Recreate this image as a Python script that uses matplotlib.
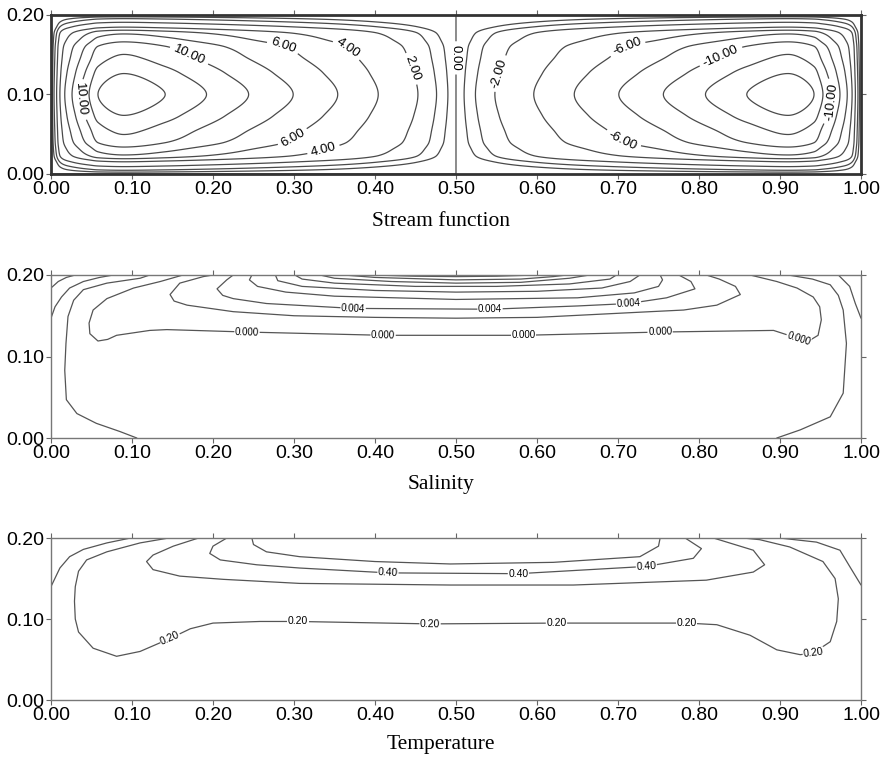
import numpy as np
import matplotlib
matplotlib.use("Agg")
import matplotlib.pyplot as plt

# ---------------- stream function ----------------
# value of psi along mid-depth (y = 0.10), read at the contour crossings
PSI_X = [0.000, 0.007, 0.011, 0.017, 0.026, 0.036, 0.047, 0.058, 0.090,
         0.141, 0.192, 0.244, 0.299, 0.354, 0.404, 0.453, 0.476, 0.490,
         0.500, 0.510, 0.524, 0.548, 0.596, 0.646, 0.701, 0.756, 0.808,
         0.859, 0.910, 0.942, 0.953, 0.964, 0.974, 0.983, 0.989, 0.993, 1.000]
PSI_MID = [0, 2, 4, 6, 8, 10, 12, 14, 15.5,
           14, 12, 10, 8, 6, 4, 2, 1, 0.5,
           0, -0.5, -1, -2, -4, -6, -8, -10, -12,
           -14, -15.5, -14, -12, -10, -8, -6, -4, -2, 0]
# vertical shape of both cells, as a fraction of the mid-depth value
PSI_Y = [0.000, 0.0045, 0.009, 0.015, 0.023, 0.032, 0.040, 0.055, 0.073, 0.100,
         0.127, 0.145, 0.160, 0.168, 0.177, 0.185, 0.191, 0.1955, 0.200]
PSI_SHAPE = [0.0, 0.0625, 0.125, 0.25, 0.50, 0.62, 0.72, 0.80, 0.90, 1.00,
             0.90, 0.80, 0.72, 0.62, 0.50, 0.25, 0.125, 0.0625, 0.0]
PSI_LEVELS = [-14, -12, -10, -8, -6, -4, -2, -1, -0.5, 0,
              0.5, 1, 2, 4, 6, 8, 10, 12, 14]
PSI_LABELS = [-10, -6, -2, 0, 2, 4, 6, 10]
PSI_LABEL_POS = [(0.034, 0.093), (0.172, 0.152), (0.287, 0.162), (0.291, 0.058),
                 (0.365, 0.156), (0.332, 0.047), (0.447, 0.133), (0.497, 0.146),
                 (0.552, 0.127), (0.711, 0.160), (0.712, 0.055), (0.826, 0.150),
                 (0.964, 0.091)]

# ---------------- salinity isolines (x, y) ----------------
SAL_M006_L = [(0.000, 0.184), (0.009, 0.192), (0.019, 0.197), (0.030, 0.200)]
SAL_M004_L = [(0.000, 0.147), (0.005, 0.161), (0.013, 0.173), (0.023, 0.184),
              (0.040, 0.192), (0.060, 0.197), (0.077, 0.200)]
SAL_M004_R = [(0.972, 0.200), (0.986, 0.186), (0.993, 0.165), (1.000, 0.147)]
SAL_M002_L = [(0.122, 0.200), (0.110, 0.196), (0.069, 0.190), (0.040, 0.182),
              (0.028, 0.169), (0.021, 0.149), (0.0185, 0.116), (0.017, 0.083),
              (0.019, 0.047), (0.032, 0.030), (0.056, 0.018), (0.085, 0.008),
              (0.106, 0.000)]
SAL_M002_R = [(0.910, 0.200), (0.940, 0.195), (0.962, 0.188), (0.972, 0.175),
              (0.978, 0.157), (0.982, 0.116), (0.978, 0.055), (0.962, 0.026),
              (0.925, 0.010), (0.896, 0.000)]
SAL_000 = [(0.163, 0.200), (0.135, 0.192), (0.102, 0.184), (0.069, 0.171),
           (0.052, 0.157), (0.047, 0.141), (0.048, 0.128), (0.058, 0.119),
           (0.070, 0.121), (0.081, 0.126), (0.122, 0.132), (0.143, 0.133),
           (0.242, 0.130), (0.410, 0.126), (0.583, 0.126), (0.752, 0.130),
           (0.892, 0.132), (0.923, 0.122), (0.937, 0.120), (0.947, 0.126),
           (0.951, 0.145), (0.949, 0.161), (0.941, 0.173), (0.921, 0.184),
           (0.896, 0.192), (0.863, 0.200)]
SAL_002 = [(0.200, 0.200), (0.188, 0.198), (0.159, 0.190), (0.147, 0.176),
           (0.152, 0.168), (0.168, 0.163), (0.225, 0.155), (0.300, 0.150),
           (0.400, 0.148), (0.500, 0.147), (0.600, 0.148), (0.740, 0.155),
           (0.781, 0.157), (0.822, 0.163), (0.851, 0.176), (0.845, 0.186),
           (0.825, 0.195), (0.809, 0.200)]
SAL_004 = [(0.225, 0.200), (0.217, 0.194), (0.205, 0.183), (0.212, 0.175),
           (0.225, 0.171), (0.266, 0.165), (0.373, 0.159), (0.542, 0.158),
           (0.650, 0.162), (0.713, 0.165), (0.760, 0.172), (0.795, 0.183),
           (0.790, 0.192), (0.775, 0.200)]
SAL_006 = [(0.248, 0.200), (0.245, 0.194), (0.255, 0.186), (0.290, 0.179),
           (0.350, 0.174), (0.500, 0.170), (0.650, 0.172), (0.720, 0.178),
           (0.750, 0.186), (0.755, 0.194), (0.752, 0.200)]
SAL_008 = [(0.277, 0.200), (0.280, 0.193), (0.310, 0.186), (0.400, 0.181),
           (0.500, 0.179), (0.600, 0.180), (0.680, 0.184), (0.715, 0.192),
           (0.727, 0.200)]
SAL_010 = [(0.301, 0.200), (0.310, 0.195), (0.350, 0.190), (0.450, 0.186),
           (0.550, 0.186), (0.640, 0.189), (0.690, 0.195), (0.698, 0.200)]
SAL_012 = [(0.332, 0.200), (0.350, 0.196), (0.420, 0.192), (0.500, 0.190),
           (0.580, 0.191), (0.640, 0.196), (0.665, 0.200)]
SAL_014 = [(0.361, 0.200), (0.400, 0.197), (0.500, 0.194), (0.580, 0.195),
           (0.620, 0.198), (0.637, 0.200)]
SAL_016 = [(0.398, 0.200), (0.450, 0.1985), (0.500, 0.198), (0.550, 0.1985),
           (0.600, 0.200)]
SAL_LABEL_POS = [(0.000, (0.242, 0.130)), (0.000, (0.410, 0.126)),
                 (0.000, (0.583, 0.126)), (0.000, (0.752, 0.130)),
                 (0.000, (0.923, 0.122)), (0.004, (0.373, 0.159)),
                 (0.004, (0.542, 0.158)), (0.004, (0.713, 0.165))]

# ---------------- temperature isolines (x, y) ----------------
TEM_010_L = [(0.000, 0.140), (0.011, 0.163), (0.023, 0.177), (0.040, 0.186),
             (0.069, 0.194), (0.098, 0.200)]
TEM_010_R = [(0.900, 0.200), (0.945, 0.195), (0.974, 0.185), (0.986, 0.165),
             (1.000, 0.142)]
TEM_020 = [(0.145, 0.200), (0.110, 0.194), (0.069, 0.183), (0.044, 0.173),
           (0.034, 0.159), (0.030, 0.140), (0.029, 0.122), (0.030, 0.100),
           (0.034, 0.084), (0.052, 0.064), (0.081, 0.054), (0.110, 0.060),
           (0.147, 0.076), (0.172, 0.088), (0.200, 0.095), (0.258, 0.097),
           (0.305, 0.097), (0.468, 0.094), (0.624, 0.095), (0.785, 0.095),
           (0.822, 0.093), (0.863, 0.080), (0.896, 0.062), (0.925, 0.056),
           (0.941, 0.058), (0.962, 0.072), (0.970, 0.097), (0.972, 0.125),
           (0.968, 0.150), (0.953, 0.171), (0.912, 0.189), (0.875, 0.198),
           (0.855, 0.200)]
TEM_030 = [(0.182, 0.200), (0.151, 0.190), (0.126, 0.179), (0.118, 0.171),
           (0.126, 0.161), (0.159, 0.153), (0.213, 0.149), (0.307, 0.144),
           (0.493, 0.142), (0.645, 0.142), (0.809, 0.148), (0.867, 0.158),
           (0.881, 0.167), (0.867, 0.185), (0.818, 0.200)]
TEM_040 = [(0.217, 0.200), (0.200, 0.190), (0.196, 0.181), (0.209, 0.173),
           (0.254, 0.167), (0.307, 0.163), (0.416, 0.157), (0.577, 0.156),
           (0.735, 0.165), (0.793, 0.175), (0.803, 0.187), (0.783, 0.200)]
TEM_050 = [(0.248, 0.200), (0.250, 0.192), (0.266, 0.183), (0.307, 0.177),
           (0.400, 0.171), (0.493, 0.168), (0.620, 0.170), (0.727, 0.177),
           (0.750, 0.190), (0.752, 0.200)]
TEM_LABEL_POS = [(0.40, (0.416, 0.157)), (0.40, (0.577, 0.156)),
                 (0.40, (0.735, 0.165)), (0.20, (0.147, 0.076)),
                 (0.20, (0.305, 0.097)), (0.20, (0.468, 0.094)),
                 (0.20, (0.624, 0.095)), (0.20, (0.785, 0.095)),
                 (0.20, (0.941, 0.058))]

X_TICKS = [0.0, 0.1, 0.2, 0.3, 0.4, 0.5, 0.6, 0.7, 0.8, 0.9, 1.0]
Y_TICKS = [0.0, 0.1, 0.2]
TITLES = ["Stream function", "Salinity", "Temperature"]


def pchip(xk, yk, x):
    """Monotone cubic Hermite through (xk, yk)."""
    xk = np.asarray(xk, float)
    yk = np.asarray(yk, float)
    h = np.diff(xk)
    d = np.diff(yk) / h
    m = np.zeros_like(yk)
    m[0], m[-1] = d[0], d[-1]
    for k in range(1, len(xk) - 1):
        if d[k - 1] * d[k] > 0:
            w1 = 2 * h[k] + h[k - 1]
            w2 = h[k] + 2 * h[k - 1]
            m[k] = (w1 + w2) / (w1 / d[k - 1] + w2 / d[k])
    i = np.clip(np.searchsorted(xk, x) - 1, 0, len(h) - 1)
    t = (x - xk[i]) / h[i]
    h00 = 2 * t**3 - 3 * t**2 + 1
    h10 = t**3 - 2 * t**2 + t
    h01 = -2 * t**3 + 3 * t**2
    h11 = t**3 - t**2
    return h00 * yk[i] + h10 * h[i] * m[i] + h01 * yk[i + 1] + h11 * h[i] * m[i + 1]


def style_axes(ax, spine_lw, spine_col):
    ax.set_xlim(0, 1)
    ax.set_ylim(0, 0.2)
    ax.set_xticks(X_TICKS)
    ax.set_yticks(Y_TICKS)
    ax.set_xticklabels(["%.2f" % v for v in X_TICKS])
    ax.set_yticklabels(["%.2f" % v for v in Y_TICKS])
    ax.tick_params(direction="out", length=3.5, width=0.8, color="#666666",
                   top=True, right=True, labelsize=14, pad=1.5)
    for lab in ax.get_xticklabels() + ax.get_yticklabels():
        lab.set_family("Liberation Sans")
    for sp in ax.spines.values():
        sp.set_linewidth(spine_lw)
        sp.set_color(spine_col)


def nearest_on_line(P, q):
    best = (np.inf, 0, P[0])
    for k in range(len(P) - 1):
        a, b = P[k], P[k + 1]
        ab = b - a
        t = np.clip(np.dot(q - a, ab) / max(np.dot(ab, ab), 1e-12), 0, 1)
        p = a + t * ab
        dist = np.hypot(*(q - p))
        if dist < best[0]:
            best = (dist, k, p)
    return best


def draw_isolines(ax, lines, labels, fmt, size, color):
    for level, pts in lines:
        xs, ys = zip(*pts)
        ax.plot(xs, ys, color=color, lw=0.9, solid_joinstyle="round",
                solid_capstyle="round", zorder=2)
    for level, pos in labels:
        q = ax.transData.transform(pos)
        cands = []
        for lv, pts in lines:
            if abs(lv - level) < 1e-9:
                P = ax.transData.transform(np.asarray(pts, float))
                cands.append(nearest_on_line(P, q) + (P,))
        dist, k, p, P = min(cands, key=lambda c: c[0])
        dx, dy = P[k + 1] - P[k]
        ang = np.degrees(np.arctan2(dy, dx))
        if ang > 90:
            ang -= 180
        if ang < -90:
            ang += 180
        xd, yd = ax.transData.inverted().transform(p)
        ax.text(xd, yd, fmt % level, rotation=ang, rotation_mode="anchor",
                ha="center", va="center", fontsize=size,
                family="Liberation Sans", zorder=3,
                bbox=dict(fc="white", ec="none", pad=0.4))


fig = plt.figure(figsize=(8.82, 7.59), dpi=100)
ax1 = fig.add_axes([0.0578, 0.7708, 0.9184, 0.2095])
ax2 = fig.add_axes([0.0578, 0.4229, 0.9184, 0.2148])
ax3 = fig.add_axes([0.0578, 0.0777, 0.9184, 0.2134])

# stream function field from the two profiles
gx = np.linspace(0, 1, 1201)
gy = np.linspace(0, 0.2, 481)
psi = np.outer(pchip(PSI_Y, PSI_SHAPE, gy), pchip(PSI_X, PSI_MID, gx))
plain = [v for v in PSI_LEVELS if v not in PSI_LABELS]
ax1.contour(gx, gy, psi, levels=plain, colors="#4a4a4a",
            linewidths=0.9, linestyles="solid")
cs = ax1.contour(gx, gy, psi, levels=PSI_LABELS, colors="#4a4a4a",
                 linewidths=0.9, linestyles="solid")
ax1.clabel(cs, manual=PSI_LABEL_POS, fmt="%.2f",
           fontsize=9.5, inline=True, inline_spacing=2)
for t in cs.labelTexts:
    t.set_family("Liberation Sans")
    t.set_color("black")
style_axes(ax1, 2.0, "#333333")

sal_lines = [(-0.006, SAL_M006_L), (-0.004, SAL_M004_L), (-0.004, SAL_M004_R),
             (-0.002, SAL_M002_L), (-0.002, SAL_M002_R), (0.000, SAL_000),
             (0.002, SAL_002), (0.004, SAL_004), (0.006, SAL_006),
             (0.008, SAL_008), (0.010, SAL_010), (0.012, SAL_012),
             (0.014, SAL_014), (0.016, SAL_016)]
style_axes(ax2, 1.0, "#777777")
draw_isolines(ax2, sal_lines, SAL_LABEL_POS, "%.3f", 7, "#555555")

tem_lines = [(0.10, TEM_010_L), (0.10, TEM_010_R), (0.20, TEM_020),
             (0.30, TEM_030), (0.40, TEM_040), (0.50, TEM_050)]
style_axes(ax3, 1.0, "#777777")
draw_isolines(ax3, tem_lines, TEM_LABEL_POS, "%.2f", 7.5, "#555555")

for title, ypix in zip(TITLES, [222, 485, 745]):
    fig.text(0.5, 1 - ypix / 759, title, ha="center", va="center",
             family="Liberation Serif", fontsize=15.5)

fig.savefig("out.png", dpi=100)
